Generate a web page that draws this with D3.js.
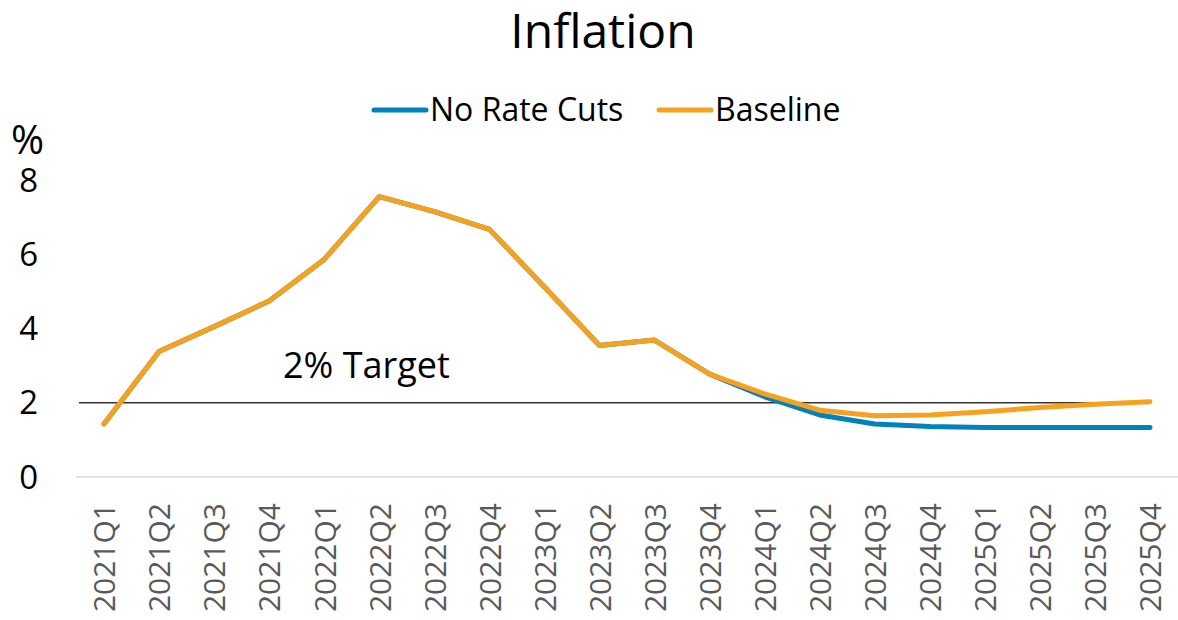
<!DOCTYPE html>
<html>
<head>
<meta charset="utf-8">
<script src="https://cdn.jsdelivr.net/npm/d3@7"></script>
<style>
  html, body { margin: 0; padding: 0; background: #fff; }
  svg { display: block; font-family: "Open Sans", "Noto Sans", sans-serif; }
</style>
</head>
<body>
<svg id="chart" width="1178" height="620"></svg>
<script>
// Quarterly inflation paths (%)
const quarters = [
  "2021Q1","2021Q2","2021Q3","2021Q4",
  "2022Q1","2022Q2","2022Q3","2022Q4",
  "2023Q1","2023Q2","2023Q3","2023Q4",
  "2024Q1","2024Q2","2024Q3","2024Q4",
  "2025Q1","2025Q2","2025Q3","2025Q4"
];
const noRateCuts = [1.43, 3.38, 4.05, 4.74, 5.86, 7.55, 7.15, 6.67, 5.12, 3.54,
                    3.69, 2.77, 2.16, 1.67, 1.43, 1.36, 1.33, 1.33, 1.33, 1.33];
const baseline   = [1.43, 3.38, 4.05, 4.74, 5.86, 7.55, 7.15, 6.67, 5.12, 3.54,
                    3.69, 2.77, 2.24, 1.80, 1.65, 1.67, 1.76, 1.87, 1.96, 2.03];
const yTicks = [0, 2, 4, 6, 8];
const target = 2;

const seriesNames = ["No Rate Cuts", "Baseline"];
const seriesColors = ["#0082BE", "#F7A21E"];

const svg = d3.select("#chart");

const x = d3.scalePoint().domain(quarters).range([104, 1150]);
const y = d3.scaleLinear().domain([0, 8]).range([477, 180]);

// Title
svg.append("text")
  .attr("x", 603).attr("y", 48)
  .attr("text-anchor", "middle")
  .attr("font-size", 48)
  .attr("fill", "#000")
  .text("Inflation");

// Legend
const legendItems = [
  { name: seriesNames[0], color: seriesColors[0], x0: 374 },
  { name: seriesNames[1], color: seriesColors[1], x0: 659 }
];
legendItems.forEach(d => {
  svg.append("line")
    .attr("x1", d.x0).attr("x2", d.x0 + 52)
    .attr("y1", 110).attr("y2", 110)
    .attr("stroke", d.color).attr("stroke-width", 5)
    .attr("stroke-linecap", "round");
  svg.append("text")
    .attr("x", d.x0 + 56).attr("y", 121)
    .attr("font-size", 32)
    .attr("fill", "#000")
    .text(d.name);
});

// Unit label
svg.append("text")
  .attr("x", 11).attr("y", 154)
  .attr("font-size", 40)
  .attr("fill", "#000")
  .text("%");

// Y axis labels (no axis line, no ticks)
const yAxis = d3.axisLeft(y).tickValues(yTicks).tickSize(0).tickPadding(0);
const yg = svg.append("g").attr("transform", "translate(38,0)").call(yAxis);
yg.select(".domain").remove();
yg.selectAll("text")
  .attr("font-size", 33)
  .attr("font-family", "'Open Sans', sans-serif")
  .attr("fill", "#000")
  .attr("dy", "0.34em")
  .attr("text-anchor", "end");

// Horizontal baseline at zero
svg.append("line")
  .attr("x1", 76).attr("x2", 1178)
  .attr("y1", y(0)).attr("y2", y(0))
  .attr("stroke", "#d9d9d9").attr("stroke-width", 1.5);

// X axis category labels, rotated
const xAxis = d3.axisBottom(x).tickSize(0).tickPadding(0);
const xg = svg.append("g").attr("transform", `translate(0,${y(0)})`).call(xAxis);
xg.select(".domain").remove();
xg.selectAll("text")
  .attr("font-size", 30)
  .attr("font-family", "'Open Sans', sans-serif")
  .attr("fill", "#595959")
  .attr("text-anchor", "end")
  .attr("dy", "0.36em")
  .attr("transform", "translate(0,26) rotate(-90)")
  .attr("x", 0).attr("y", 0);

// Inflation target line
svg.append("line")
  .attr("x1", x(quarters[0]) - 25).attr("x2", x(quarters[quarters.length - 1]))
  .attr("y1", y(target)).attr("y2", y(target))
  .attr("stroke", "#333").attr("stroke-width", 1.5);

svg.append("text")
  .attr("x", 283).attr("y", 378)
  .attr("font-size", 36)
  .attr("fill", "#000")
  .text(target + "% Target");

// Series lines
const line = d3.line()
  .x((d, i) => x(quarters[i]))
  .y(d => y(d));

[noRateCuts, baseline].forEach((vals, k) => {
  svg.append("path")
    .datum(vals)
    .attr("d", line)
    .attr("fill", "none")
    .attr("stroke", seriesColors[k])
    .attr("stroke-width", 5)
    .attr("stroke-linejoin", "round")
    .attr("stroke-linecap", "round");
});
</script>
</body>
</html>
